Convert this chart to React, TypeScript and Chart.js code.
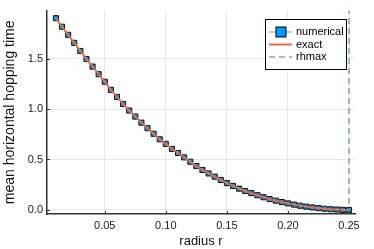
import React, { useEffect, useRef } from "react";
import { Chart, registerables } from "chart.js";

Chart.register(...registerables);

const radius: number[] = [
  0.01, 0.015, 0.02, 0.025, 0.03, 0.035, 0.04, 0.045, 0.05,
  0.055, 0.06, 0.065, 0.07, 0.075, 0.08, 0.085, 0.09, 0.095, 0.1,
  0.105, 0.11, 0.115, 0.12, 0.125, 0.13, 0.135, 0.14, 0.145, 0.15,
  0.155, 0.16, 0.165, 0.17, 0.175, 0.18, 0.185, 0.19, 0.195, 0.2,
  0.205, 0.21, 0.215, 0.22, 0.225, 0.23, 0.235, 0.24, 0.245, 0.25,
];

const numerical: number[] = [
  1.9, 1.815, 1.735, 1.655, 1.575, 1.495, 1.42, 1.345, 1.27,
  1.19, 1.12, 1.05, 0.985, 0.925, 0.865, 0.81, 0.755, 0.7, 0.655,
  0.605, 0.565, 0.521, 0.478, 0.435, 0.396, 0.362, 0.33, 0.297, 0.266,
  0.238, 0.211, 0.188, 0.167, 0.146, 0.126, 0.108, 0.092, 0.078, 0.065,
  0.053, 0.042, 0.033, 0.025, 0.018, 0.012, 0.007, 0.004, 0.001, 0.0,
];

const exact: number[] = [
  1.9, 1.815, 1.735, 1.655, 1.575, 1.495, 1.42, 1.345, 1.27,
  1.19, 1.12, 1.05, 0.985, 0.925, 0.865, 0.81, 0.755, 0.7, 0.655,
  0.605, 0.565, 0.521, 0.478, 0.435, 0.396, 0.362, 0.33, 0.297, 0.266,
  0.238, 0.211, 0.188, 0.167, 0.146, 0.126, 0.108, 0.092, 0.078, 0.065,
  0.053, 0.042, 0.033, 0.025, 0.018, 0.012, 0.007, 0.004, 0.001, 0.0,
];

const rhmax = 0.25;
const xTicks: number[] = [0.05, 0.1, 0.15, 0.2, 0.25];
const yTicks: number[] = [0.0, 0.5, 1.0, 1.5];
const legendLabels: string[] = ["numerical", "exact", "rhmax"];

const X_MIN = 0.0027;
const X_MAX = 0.2549;
const Y_MIN = -0.04;
const Y_MAX = 1.975;

const BLUE = "#009AFA";
const BLUE_LINE = "rgba(0,154,250,0.5)";
const ORANGE = "#E26F46";
const GREEN = "rgba(61,164,77,0.55)";
const FONT = "'Liberation Sans', Arial, Helvetica, sans-serif";

const overlayPlugin = {
  id: "overlay",
  afterDatasetsDraw(chart: any) {
    const ctx = chart.ctx as CanvasRenderingContext2D;
    const xs = chart.scales.x;
    const ys = chart.scales.y;
    const area = chart.chartArea;
    ctx.save();
    // inward tick marks
    ctx.strokeStyle = "#333";
    ctx.lineWidth = 1;
    ctx.beginPath();
    xTicks.forEach((v) => {
      const px = Math.round(xs.getPixelForValue(v)) + 0.5;
      ctx.moveTo(px, area.bottom);
      ctx.lineTo(px, area.bottom - 3);
    });
    yTicks.forEach((v) => {
      const py = Math.round(ys.getPixelForValue(v)) + 0.5;
      ctx.moveTo(area.left, py);
      ctx.lineTo(area.left + 3, py);
    });
    ctx.stroke();

    // legend
    const bx = 265.5, by = 19.5, bw = 81, bh = 50;
    ctx.fillStyle = "#fff";
    ctx.fillRect(bx, by, bw, bh);
    ctx.strokeStyle = "#000";
    ctx.lineWidth = 1;
    ctx.strokeRect(bx, by, bw, bh);

    const rows = [32, 44.5, 57];
    const lx0 = 269, lx1 = 292, tx = 296;
    // numerical
    ctx.strokeStyle = BLUE_LINE;
    ctx.lineWidth = 1.5;
    ctx.beginPath();
    ctx.moveTo(lx0, rows[0]);
    ctx.lineTo(lx1, rows[0]);
    ctx.stroke();
    ctx.fillStyle = BLUE;
    ctx.fillRect(lx0 + 7, rows[0] - 5, 10, 10);
    ctx.strokeStyle = "#000";
    ctx.lineWidth = 1;
    ctx.strokeRect(lx0 + 7, rows[0] - 5, 10, 10);
    // exact
    ctx.strokeStyle = ORANGE;
    ctx.lineWidth = 2;
    ctx.beginPath();
    ctx.moveTo(lx0, rows[1]);
    ctx.lineTo(lx1, rows[1]);
    ctx.stroke();
    // rhmax
    ctx.strokeStyle = GREEN;
    ctx.lineWidth = 2;
    ctx.setLineDash([6, 4]);
    ctx.beginPath();
    ctx.moveTo(lx0, rows[2]);
    ctx.lineTo(lx1, rows[2]);
    ctx.stroke();
    ctx.setLineDash([]);

    ctx.fillStyle = "#000";
    ctx.font = `11px ${FONT}`;
    ctx.textBaseline = "middle";
    ctx.textAlign = "left";
    legendLabels.forEach((t, i) => ctx.fillText(t, tx, rows[i]));
    ctx.restore();
  },
};

export default function App() {
  const ref = useRef<HTMLCanvasElement | null>(null);

  useEffect(() => {
    document.body.style.margin = "0";
    const canvas = ref.current;
    if (!canvas) return;
    const chart = new Chart(canvas, {
      type: "line",
      data: {
        datasets: [
          {
            label: legendLabels[0],
            data: radius.map((r, i) => ({ x: r, y: numerical[i] })),
            borderColor: BLUE_LINE,
            borderWidth: 1,
            pointStyle: "rect",
            pointRadius: 3.6,
            pointBackgroundColor: BLUE,
            pointBorderColor: "#111",
            pointBorderWidth: 1,
            order: 3,
          },
          {
            label: legendLabels[1],
            data: radius.map((r, i) => ({ x: r, y: exact[i] })),
            borderColor: ORANGE,
            borderWidth: 2,
            pointRadius: 0,
            order: 2,
          },
          {
            label: legendLabels[2],
            data: [
              { x: rhmax, y: Y_MIN },
              { x: rhmax, y: Y_MAX },
            ],
            borderColor: GREEN,
            borderWidth: 2,
            borderDash: [6, 4],
            pointRadius: 0,
            order: 1,
          },
        ],
      },
      options: {
        responsive: false,
        animation: false,
        layout: { padding: { top: 10, right: 19, left: 0, bottom: 0 } },
        plugins: { legend: { display: false }, tooltip: { enabled: false } },
        scales: {
          x: {
            type: "linear",
            min: X_MIN,
            max: X_MAX,
            afterBuildTicks: (s: any) => {
              s.ticks = xTicks.map((v) => ({ value: v }));
            },
            afterFit: (s: any) => {
              s.height = 35;
            },
            ticks: {
              callback: (v: any) => Number(v).toFixed(2),
              color: "#222",
              font: { family: FONT, size: 11 },
              padding: 5,
              maxRotation: 0,
            },
            grid: { color: "rgba(0,0,0,0.09)", lineWidth: 1, drawTicks: false },
            border: { display: true, color: "#333", width: 1.5 },
            title: {
              display: true,
              text: "radius r",
              color: "#111",
              font: { family: FONT, size: 13 },
              padding: { top: 0, bottom: 0 },
            },
          },
          y: {
            type: "linear",
            min: Y_MIN,
            max: Y_MAX,
            afterBuildTicks: (s: any) => {
              s.ticks = yTicks.map((v) => ({ value: v }));
            },
            afterFit: (s: any) => {
              s.width = 47;
            },
            ticks: {
              callback: (v: any) => Number(v).toFixed(1),
              color: "#222",
              font: { family: FONT, size: 11 },
              padding: 4,
            },
            grid: { color: "rgba(0,0,0,0.09)", lineWidth: 1, drawTicks: false },
            border: { display: true, color: "#333", width: 1.5 },
            title: {
              display: true,
              text: "mean horizontal hopping time",
              color: "#111",
              font: { family: FONT, size: 14 },
              padding: { top: 2, bottom: 0 },
            },
          },
        },
      },
      plugins: [overlayPlugin],
    } as any);
    return () => chart.destroy();
  }, []);

  return (
    <div style={{ width: 374, height: 249 }}>
      <canvas ref={ref} width={374} height={249} style={{ display: "block" }} />
    </div>
  );
}
